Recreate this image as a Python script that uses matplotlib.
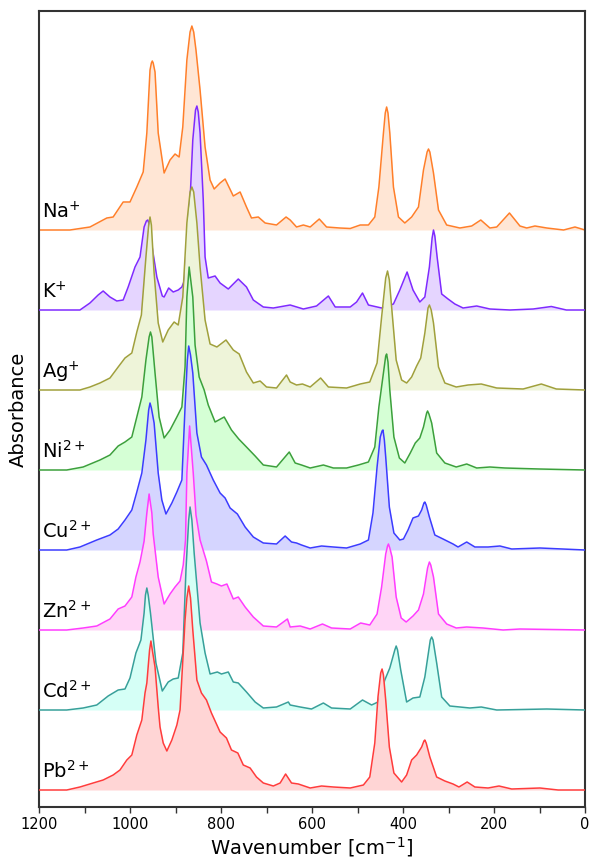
import numpy as np
import matplotlib
matplotlib.use('Agg')
import matplotlib.pyplot as plt

na = [(1200,0),(1132,0),(1088,3),(1051,12),(1037,13),(1015,28),(1000,28),(985,43),(971,58),(963,97),
      (956,160),(953,167),(951,169),(949,167),(945,158),(938,97),(925,57),(912,70),(901,76),(892,73),
      (884,103),(875,170),(868,198),(864,204),(860,198),(855,180),(846,140),(835,83),(824,50),(815,41),
      (802,47),(791,51),(773,34),(758,38),(744,23),(733,12),(718,13),(703,7),(678,5),(657,13),
      (648,10),(634,3),(619,5),(604,3),(584,11),(568,3),(539,2),(516,1.5),(494,5),(476,5),
      (462,13),(453,43),(443,97),(439,117),(436,123),(433,117),(429,97),(421,43),(410,13),(396,7),
      (381,13),(366,23),(355,60),(347,78),(344,81),(341,78),(333,57),(322,20),(304,5),(275,2),
      (249,4),(229,10),(209,2),(194,3),(166,17),(143,4),(128,2),(110,4),(84,2),(47,0),(22,3),(0,0)]

k = [(1200,0),(1110,0),(1088,7),(1070,15),(1059,19),(1044,13),(1029,9),(1015,10),(1004,23),(989,43),
     (978,53),(969,83),(964,89),(961,90),(957,85),(952,65),(941,33),(929,14),(925,13),(915,22),
     (905,18),(894,20),(886,23),(880,30),(872,70),(868,110),(862,170),(856,200),(853,204),(850,198),
     (846,177),(839,110),(835,53),(828,32),(813,34),(802,27),(784,21),(762,31),(744,23),(729,10),
     (707,3),(685,2),(648,5),(619,1),(590,4),(564,14),(549,3),(516,3),(502,8),(489,17),
     (476,5),(447,2),(421,6),(407,20),(391,38),(378,20),(363,8),(352,13),(342,43),(336,72),
     (333,80),(330,74),(325,53),(315,16),(301,11),(286,6),(268,2),(238,4),(209,1),(165,0),
     (114,1),(74,3.5),(41,0),(0,0)]

ag = [(1200,0),(1110,0),(1088,3),(1066,7),(1044,12),(1026,23),(1011,32),(996,37),(985,58),(975,75),
      (965,133),(959,165),(956,173),(953,165),(947,117),(938,67),(928,48),(916,60),(903,68),(894,65),
      (884,93),(875,167),(868,198),(864,203),(860,198),(853,167),(846,123),(835,70),(824,46),(809,43),
      (789,50),(773,40),(760,36),(744,18),(729,7),(714,9),(700,3),(678,2),(656,15),(648,8),
      (634,5),(621,6),(604,3),(581,12),(564,3),(524,2),(494,6),(473,8),(457,27),(447,73),
      (438,112),(434,119),(430,110),(425,83),(415,30),(403,10),(392,7),(381,13),(370,24),(361,32),
      (352,57),(345,82),(342,85),(338,80),(333,67),(322,23),(308,7),(283,3),(257,5),(228,6),
      (194,2),(136,1),(96,6),(63,1),(0,0)]

ni = [(1200,0),(1139,0),(1103,3),(1066,10),(1044,15),(1026,24),(1011,28),(996,33),(985,53),(974,73),
      (965,110),(958,133),(955,138),(952,133),(945,97),(936,53),(925,32),(912,40),(897,53),(886,63),
      (879,103),(875,173),(870,203),(862,173),(857,125),(848,93),(837,80),(828,65),(813,48),(793,53),
      (777,40),(761,31),(744,23),(725,14),(707,5),(678,3),(650,18),(637,7),(623,5),(604,2),
      (575,5),(553,2),(524,2),(498,5),(476,8),(462,23),(453,63),(443,97),(438,114),(436,116),
      (433,108),(429,80),(420,33),(408,12),(396,7),(384,17),(373,27),(363,32),(355,43),(348,57),
      (346,59),(343,56),(337,47),(326,17),(308,7),(283,3),(260,6),(238,2),(209,3),(176,2),
      (100,1),(0,0)]

cu = [(1200,0),(1139,0),(1110,3),(1073,10),(1044,15),(1026,21),(1011,30),(996,40),(985,58),(974,77),
      (965,110),(959,140),(956,147),(953,142),(947,127),(938,77),(930,50),(921,36),(908,47),(897,58),
      (886,70),(879,143),(874,190),(871,204),(867,195),(862,177),(853,117),(843,93),(832,85),(817,70),
      (802,57),(791,52),(780,42),(764,36),(747,23),(729,13),(707,7),(678,6),(659,14),(645,8),
      (634,7),(623,5),(604,2),(579,4),(553,3),(524,2),(494,6),(476,10),(466,37),(457,83),
      (450,113),(446,119),(444,120),(441,110),(438,93),(430,43),(420,17),(407,10),(399,11),(389,20),
      (378,32),(366,34),(359,40),(354,47),(352,48),(349,45),(342,33),(330,15),(312,11),(290,6),
      (279,3),(260,8),(242,3),(213,3),(187,4),(161,1),(99,2),(0,0)]

zn = [(1200,0),(1139,0),(1103,2),(1073,4),(1044,11),(1026,21),(1011,24),(996,33),(987,53),(978,68),
      (969,89),(963,117),(958,136),(952,117),(949,96),(938,53),(925,26),(912,36),(901,43),(890,49),
      (883,65),(878,90),(875,157),(869,204),(861,157),(855,115),(846,90),(832,69),(821,48),(809,46),
      (799,44),(787,46),(773,31),(762,33),(747,23),(729,13),(707,4),(678,3),(654,11),(648,3),
      (626,4),(604,1),(577,6),(557,2),(516,1),(493,7),(473,5),(457,16),(447,43),(438,76),
      (434,84),(432,86),(429,82),(424,73),(415,33),(404,12),(393,8),(378,14),(366,20),(355,36),
      (346,62),(342,68),(339,65),(333,53),(322,16),(304,6),(283,2),(260,3),(224,2),(180,0),
      (143,1),(0,0)]

cd = [(1200,0),(1139,0),(1103,2),(1073,5),(1048,14),(1026,20),(1011,21),(1000,32),(987,57),(976,70),
      (969,97),(966,115),(963,122),(960,115),(955,97),(943,47),(929,19),(916,28),(905,31),(894,32),
      (884,57),(877,140),(875,157),(871,190),(868,203),(864,190),(859,157),(846,87),(835,57),(824,36),
      (808,38),(799,36),(784,38),(773,28),(762,27),(744,18),(725,8),(707,2),(678,3),(652,8),
      (648,5),(626,3),(601,1),(575,7),(557,2),(516,1),(489,10),(469,5),(455,8),(440,30),
      (429,42),(418,60),(415,64),(412,60),(405,40),(392,8),(378,12),(363,13),(352,33),(340,70),
      (337,73),(334,70),(326,47),(315,13),(297,4),(275,3),(253,2),(228,3),(194,0),(84,1),(0,0)]

pb = [(1200,0),(1139,0),(1110,3),(1081,7),(1059,10),(1037,15),(1022,20),(1007,30),(996,35),(985,55),
      (974,70),(967,97),(963,107),(957,140),(954,149),(951,140),(945,123),(938,83),(934,63),(927,47),
      (919,39),(908,50),(897,65),(890,80),(879,170),(875,192),(871,204),(867,192),(862,160),(853,110),
      (843,97),(832,90),(821,77),(802,58),(788,52),(777,40),(763,37),(751,25),(736,22),(722,13),
      (707,7),(685,4),(670,7),(658,16),(645,7),(630,6),(604,2),(579,4),(553,3),(516,2),
      (487,5),(473,13),(462,47),(455,93),(449,117),(446,121),(443,115),(438,90),(430,43),(420,17),
      (403,8),(392,15),(381,30),(370,35),(359,43),(354,49),(352,50),(349,47),(341,33),(326,13),
      (308,9),(290,6),(277,3),(259,8),(242,3),(213,2),(189,4),(161,1),(99,2),(59,0),(0,0)]

labels = ['Na$^{+}$', 'K$^{+}$', 'Ag$^{+}$', 'Ni$^{2+}$', 'Cu$^{2+}$', 'Zn$^{2+}$', 'Cd$^{2+}$', 'Pb$^{2+}$']
spectra = [na, k, ag, ni, cu, zn, cd, pb]
line_colors = ['#FF7F2A', '#7F2AFF', '#A0A03C', '#3CA03C', '#3C3CFF', '#FF3CFF', '#37A09A', '#FF3C3C']
fill_colors = ['#FFE6D5', '#E5D5FF', '#EEF4D9', '#D5FFD5', '#D5D5FF', '#FFD5F6', '#D5FFF6', '#FFD5D5']
step = 80

fig = plt.figure(figsize=(5.92, 8.58), dpi=100)
ax = fig.add_axes([39/592, 51/858, 546/592, 796/858])

n = len(spectra)
for i, (data, lab) in enumerate(zip(spectra, labels)):
    wn, a = np.array(data, dtype=float).T
    off = (n - 1 - i) * step
    ax.fill_between(wn, off, off + a, color=fill_colors[i], lw=0, zorder=2*i + 1)
    ax.plot(wn, off + a, color=line_colors[i], lw=1.1, zorder=2*i + 2,
            solid_joinstyle='round', solid_capstyle='round')
    ax.text(1193, off + 12, lab, fontsize=14, ha='left', va='baseline', zorder=30)

ax.set_xlim(1200, 0)
ax.set_ylim(-17, 779)
ax.set_yticks([])
ax.set_xticks(np.arange(0, 1201, 200))
ax.set_xticks(np.arange(100, 1200, 200), minor=True)
ax.tick_params(axis='x', which='both', direction='out', length=4, width=1, colors='#333333',
               labelsize=10.5, labelcolor='black')
for s in ax.spines.values():
    s.set_linewidth(1.5)
    s.set_color('#333333')
ax.set_xlabel('Wavenumber [cm$^{-1}$]', fontsize=14, labelpad=2)
ax.set_ylabel('Absorbance', fontsize=14, labelpad=8)

fig.savefig('out.png', dpi=100)
